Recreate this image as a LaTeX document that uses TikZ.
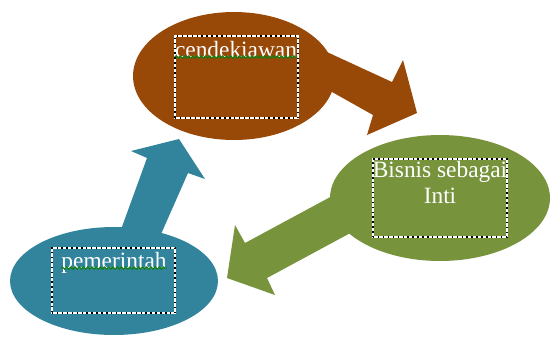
\documentclass[tikz,border=0pt]{standalone}
\usepackage{fontspec}
\setmainfont{Liberation Serif}
\usetikzlibrary{shapes.geometric,decorations.pathmorphing}
\definecolor{brownacc}{RGB}{152,72,7}
\definecolor{greenacc}{RGB}{119,147,60}
\definecolor{blueacc}{RGB}{49,132,155}
\definecolor{spellgreen}{RGB}{20,125,20}
\begin{document}
\begin{tikzpicture}[scale=0.02]
        \tikzstyle{every node}+=[inner sep=0pt]
        \tikzstyle{blob}=[ellipse, draw=none]
        \tikzstyle{txtbox}=[rectangle, draw=white, line width=0.8pt,
                postaction={draw=black, dotted, line width=0.8pt}]
        \tikzstyle{lbl}=[text=white, font=\fontsize{13.3}{14.5}\selectfont]
        \tikzstyle{spell}=[spellgreen, line width=0.7pt, decorate,
                decoration={snake, amplitude=0.6pt, segment length=2.4pt}]
        \useasboundingbox (0,0) rectangle (551,-336);
        % block arrows
        \fill [brownacc] (303,-41) -- (392,-82) -- (403,-60) -- (417,-113) -- (367,-135) -- (373,-115) -- (300,-74) -- cycle;
        \fill [greenacc] (360,-181) -- (245,-243) -- (235,-225) -- (227,-278) -- (275,-295) -- (267,-278) -- (380,-217) -- cycle;
        \fill [blueacc] (115,-246) -- (147,-158) -- (131,-151) -- (179,-139) -- (205,-179) -- (188,-173) -- (154,-250) -- cycle;
        % ellipses
        \node [blob, fill=brownacc, minimum width=4.04cm, minimum height=2.56cm] (cend) at (234,-76) {};
        \node [blob, fill=greenacc, minimum width=4.4cm, minimum height=2.52cm] (bisnis) at (440,-198) {};
        \node [blob, fill=blueacc, minimum width=4.16cm, minimum height=2.16cm] (pem) at (114,-281) {};
        % text boxes
        \node [txtbox, minimum width=2.46cm, minimum height=1.64cm] (boxcend) at (236.5,-77) {};
        \node [txtbox, minimum width=2.68cm, minimum height=1.56cm] (boxbisnis) at (440,-198) {};
        \node [txtbox, minimum width=2.46cm, minimum height=1.30cm] (boxpem) at (113.5,-280.5) {};
        % labels
        \node [lbl, anchor=base] (tcend) at (236,-57) {cendekiawan};
        \node [lbl, anchor=north, align=center] (tbisnis) at (440,-161) {Bisnis sebagai\\Inti};
        \node [lbl, anchor=base] (tpem) at (114,-268) {pemerintah};
        \draw [spell] ([yshift=-1.3pt]tcend.base west) -- ([yshift=-1.3pt]tcend.base east);
        \draw [spell] ([yshift=-1.3pt]tpem.base west) -- ([yshift=-1.3pt]tpem.base east);
        \end{tikzpicture}
\end{document}
